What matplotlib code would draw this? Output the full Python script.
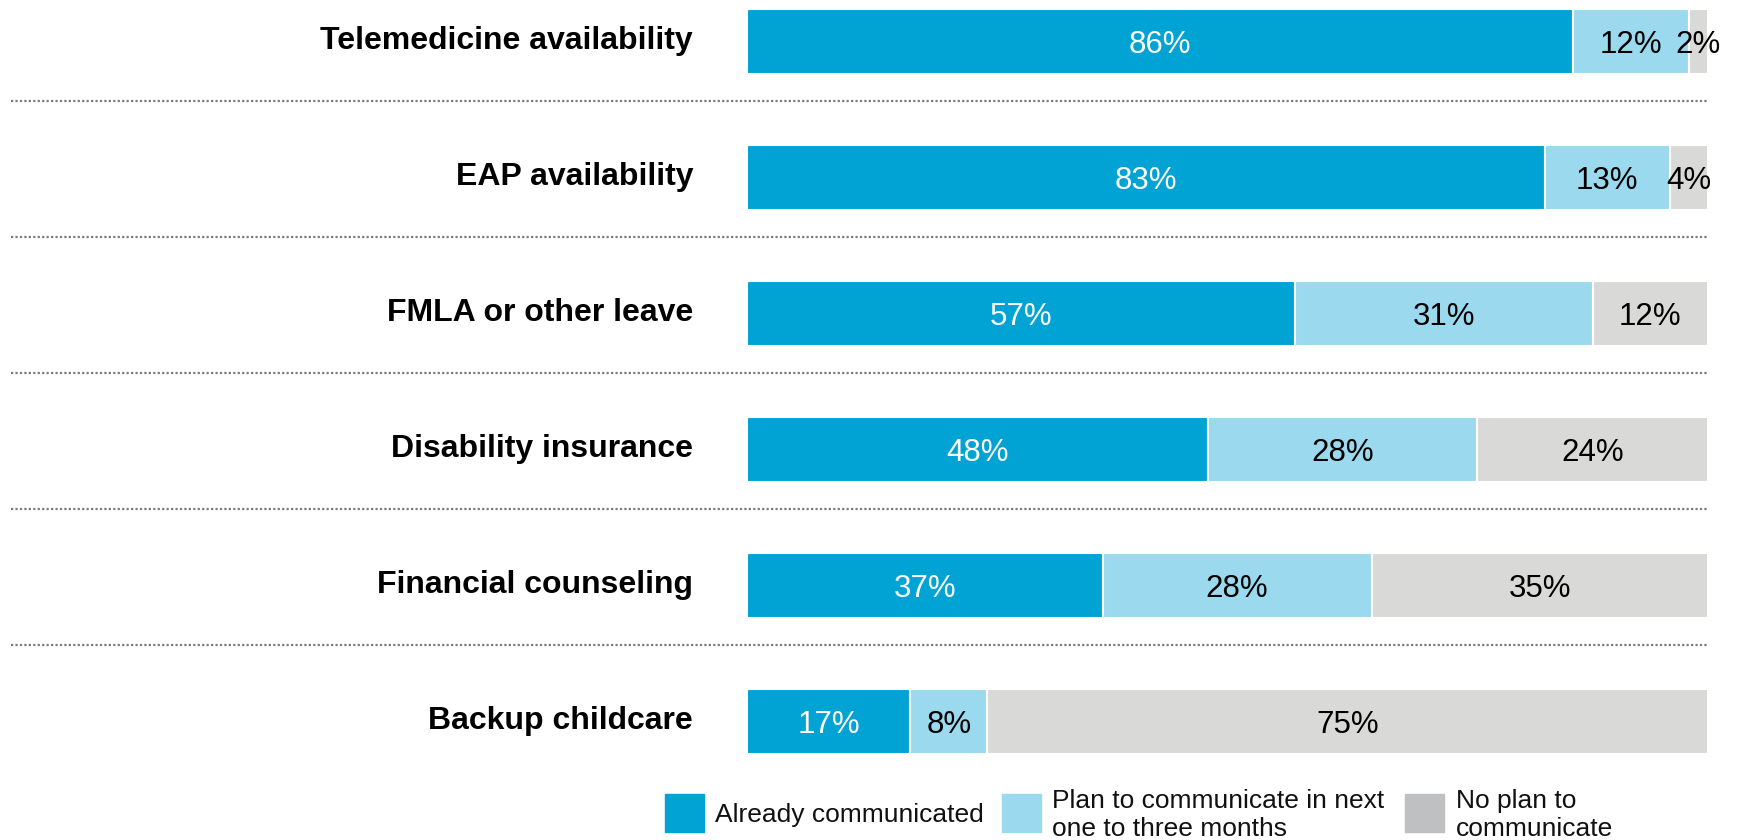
import matplotlib
matplotlib.use("Agg")
import matplotlib.pyplot as plt
from matplotlib.patches import Rectangle

plt.rcParams['font.family'] = ['Liberation Sans', 'DejaVu Sans']

# Data
categories = [
    "Telemedicine availability",
    "EAP availability",
    "FMLA or other leave",
    "Disability insurance",
    "Financial counseling",
    "Backup childcare",
]
already = [86, 83, 57, 48, 37, 17]
plan = [12, 13, 31, 28, 28, 8]
no_plan = [2, 4, 12, 24, 35, 75]

series_names = [
    "Already communicated",
    "Plan to communicate in next\none to three months",
    "No plan to\ncommunicate",
]
bar_colors = ["#00A3D4", "#9AD9EE", "#D9DAD8"]
legend_colors = ["#00A3D4", "#9AD9EE", "#BFC0C2"]
label_colors = ["white", "black", "black"]

W, H = 1738, 840
fig = plt.figure(figsize=(W / 100, H / 100), dpi=100)
ax = fig.add_axes([0, 0, 1, 1])
ax.axis('off')

# map 0..100 onto the bar area, rows one unit apart
x0_px, x1_px = 747, 1708
ppu = (x1_px - x0_px) / 100.0
ax.set_xlim(-x0_px / ppu, 100 + (W - x1_px) / ppu)
row0_px, row_step = 41.5, 136.0
ax.set_ylim((H - row0_px) / row_step, -row0_px / row_step)

ys = list(range(len(categories)))
bar_h = 0.478
lefts = [0] * len(categories)
for vals, col, tcol in zip([already, plan, no_plan], bar_colors, label_colors):
    ax.barh(ys, vals, left=lefts, height=bar_h, color=col,
            edgecolor='white', linewidth=1.5)
    for y, v, l in zip(ys, vals, lefts):
        ax.text(l + v / 2, y + 0.025, f"{v}%", ha='center', va='center',
                fontsize=22.5, color=tcol)
    lefts = [a + b for a, b in zip(lefts, vals)]

# category labels
for y, c in zip(ys, categories):
    ax.text((693 - x0_px) / ppu, y - 0.005, c, ha='right', va='center',
            fontsize=23, fontweight='bold', color='black')

# dotted separators
for y in ys[:-1]:
    ax.plot([(11 - x0_px) / ppu, 100], [y + 0.44, y + 0.44],
            linestyle=(0, (1, 1)), color='#7c7c7c', linewidth=1.6,
            solid_capstyle='butt')

# legend
patch_x = [665, 1002, 1405]
text_x = [715, 1052, 1456]
ptop, pbot = 794, 832
for px, tx, col, name in zip(patch_x, text_x, legend_colors, series_names):
    fig.add_artist(Rectangle((px / W, 1 - pbot / H), 39 / W, (pbot - ptop) / H,
                             transform=fig.transFigure, color=col))
    fig.text(tx / W, 1 - ((ptop + pbot) / 2 + 2) / H, name, ha='left', va='center',
             fontsize=19, color='#111111', linespacing=1.22)

fig.savefig("out.png", dpi=100)
